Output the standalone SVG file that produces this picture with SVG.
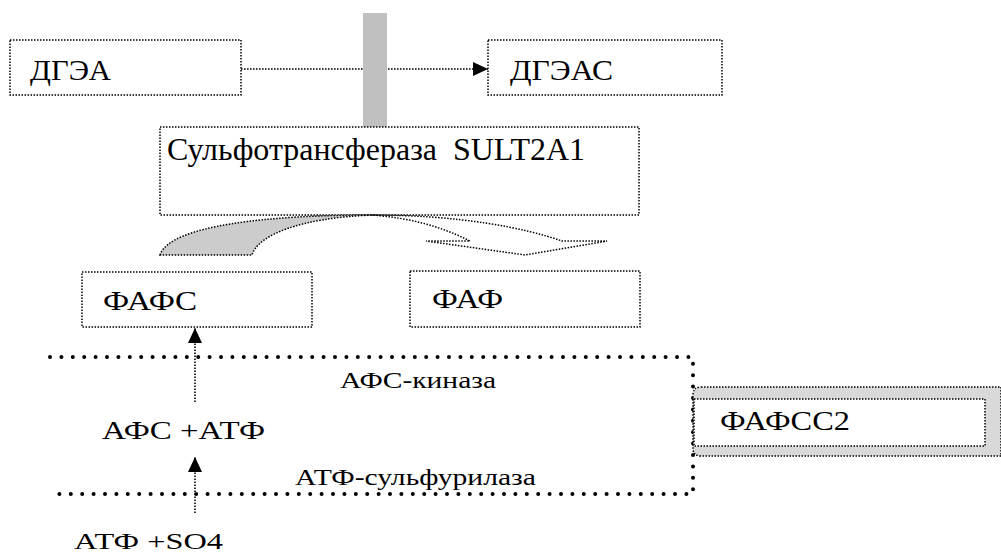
<svg xmlns="http://www.w3.org/2000/svg" width="1001" height="553" viewBox="0 0 1001 553">
<style>
.box{fill:#fff;stroke:#000;stroke-width:1.5;stroke-dasharray:1.5 1.5}
.dot{fill:none;stroke:#000;stroke-width:1.6;stroke-dasharray:1.6 1.4}
.big{fill:none;stroke:#000;stroke-width:4;stroke-linecap:round;stroke-dasharray:0 11.4}
.t{fill:#000}
</style>
<defs>
<marker id="ah" viewBox="0 0 15 14" refX="15" refY="7" markerWidth="15" markerHeight="14" markerUnits="userSpaceOnUse" orient="auto">
<path d="M0,0 L15,7 L0,14 Z" fill="#000"/>
</marker>
</defs>
<g font-family="Liberation Serif, Tinos, Times New Roman, Times, DejaVu Serif, Noto Serif, FreeSerif, serif">
<g id="frame">
<path class="big" d="M50,357 L693,357 L693,494 L50,494"/>
</g>
<g id="fafss2">
<path d="M701,387 L1001,387 L1001,456 L701,456 Q693,456 693,448 L693,395 Q693,387 701,387 Z" fill="#d9d9d9" stroke="#000" stroke-width="1.5" stroke-dasharray="1.5 1.5"/>
<rect class="box" x="694" y="399" width="291" height="47"/>
<text class="t" font-size="28" x="720" y="430" textLength="130" lengthAdjust="spacingAndGlyphs">ФАФСС2</text>
</g>
<g id="dgea">
<rect class="box" x="10" y="40" width="231" height="55"/>
<text class="t" font-size="30" x="30" y="80" textLength="81" lengthAdjust="spacingAndGlyphs">ДГЭА</text>
</g>
<g id="dgeas">
<rect class="box" x="488" y="40" width="234" height="55"/>
<text class="t" font-size="30" x="510" y="80" textLength="103" lengthAdjust="spacingAndGlyphs">ДГЭАС</text>
</g>
<g id="connectors">
<path class="dot" d="M241,69 L488,69" marker-end="url(#ah)"/>
<path class="dot" d="M195,402 L195,328" marker-end="url(#ah)"/>
<path class="dot" d="M195,513 L195,457" marker-end="url(#ah)"/>
</g>
<g id="bar">
<rect x="363" y="13" width="24" height="114" fill="#c0c0c0"/>
</g>
<g id="sult">
<rect class="box" x="160" y="127" width="479" height="88"/>
<text class="t" font-size="32" x="167" y="160" xml:space="preserve" textLength="418" lengthAdjust="spacingAndGlyphs">Сульфотрансфераза  SULT2A1</text>
</g>
<g id="curved-arrow">
<path d="M160,255 C170,225 270,215 372,215 C300,218 258,235 252,255 Z" fill="#cccccc" stroke="#000" stroke-width="1.5" stroke-dasharray="1.5 1.5"/>
<path d="M372,215 C460,215 525,228 562,241 L607,241 L525,255 L426,241 L470,241 C440,226 410,218 372,215 Z" fill="none" stroke="#000" stroke-width="1.5" stroke-dasharray="1.5 1.5"/>
</g>
<g id="faps">
<rect class="box" x="82" y="272" width="230" height="55"/>
<text class="t" font-size="28" x="103" y="310" textLength="94" lengthAdjust="spacingAndGlyphs">ФАФС</text>
</g>
<g id="faf">
<rect class="box" x="410" y="271" width="230" height="56"/>
<text class="t" font-size="28" x="432" y="308" textLength="71" lengthAdjust="spacingAndGlyphs">ФАФ</text>
</g>
<g id="labels">
<text class="t" font-size="24" x="340" y="388" textLength="156" lengthAdjust="spacingAndGlyphs">АФС-киназа</text>
<text class="t" font-size="26" x="102" y="439" textLength="163" lengthAdjust="spacingAndGlyphs">АФС +АТФ</text>
<text class="t" font-size="24" x="295" y="485" textLength="241" lengthAdjust="spacingAndGlyphs">АТФ-сульфурилаза</text>
<text class="t" font-size="24" x="74" y="549" textLength="149" lengthAdjust="spacingAndGlyphs">АТФ +SO4</text>
</g>
</g>
</svg>
